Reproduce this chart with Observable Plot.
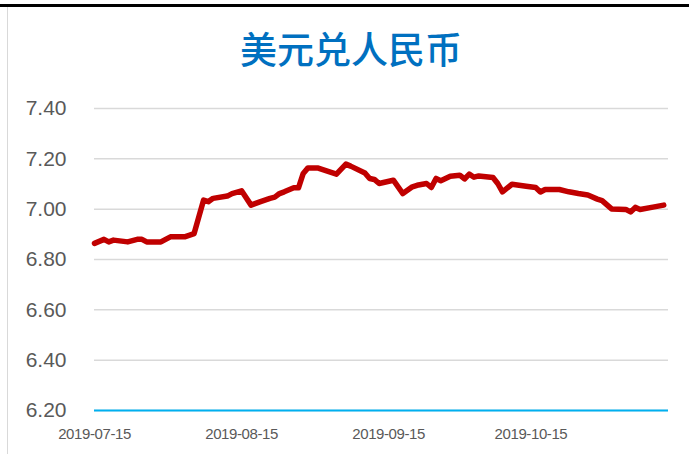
<!DOCTYPE html>
<html>
<head>
<meta charset="utf-8">
<script src="https://cdn.jsdelivr.net/npm/d3@7"></script>
<script src="https://cdn.jsdelivr.net/npm/@observablehq/plot@0.6"></script>
<style>
  html, body { margin: 0; padding: 0; background: #fff; }
  #wrap { position: relative; width: 689px; height: 454px; overflow: hidden; background: #fff; }
  #topbar { position: absolute; left: 0; top: 4px; width: 689px; height: 3px; background: #000; }
  #leftborder { position: absolute; left: 7px; top: 7px; width: 1px; height: 447px; background: #d9d9d9; }
  #title { position: absolute; left: 0; width: 702px; top: 23px; text-align: center;
           font-family: "Noto Sans CJK SC", sans-serif; font-size: 37px; font-weight: 500;
           color: #0070c0; line-height: 50px; }
  #chart { position: absolute; left: 0; top: 0; }
  #chart g[aria-label="y-axis tick label"], #chart g[aria-label="y-axis tick label"] text { font-size: 21px !important; }
  #chart g[aria-label="x-axis tick label"], #chart g[aria-label="x-axis tick label"] text { font-size: 15px !important; letter-spacing: -0.4px; }
</style>
</head>
<body>
<div id="wrap">
  <div id="topbar"></div>
  <div id="leftborder"></div>
  <div id="chart"></div>
  <div id="title">美元兑人民币</div>
</div>
<script>
const title = "美元兑人民币";
const dates = [
  "2019-07-15","2019-07-17","2019-07-18","2019-07-19","2019-07-22","2019-07-24","2019-07-25","2019-07-26",
  "2019-07-29","2019-07-31","2019-08-03","2019-08-05","2019-08-07","2019-08-08","2019-08-09","2019-08-12",
  "2019-08-13","2019-08-15","2019-08-17","2019-08-19","2019-08-21","2019-08-22","2019-08-23","2019-08-24",
  "2019-08-26","2019-08-27","2019-08-28","2019-08-29","2019-08-31","2019-09-04","2019-09-06","2019-09-07",
  "2019-09-10","2019-09-11","2019-09-12","2019-09-13","2019-09-16","2019-09-17","2019-09-18","2019-09-20",
  "2019-09-21","2019-09-23","2019-09-24","2019-09-25","2019-09-26","2019-09-28","2019-09-30","2019-10-01",
  "2019-10-02","2019-10-03","2019-10-04","2019-10-07","2019-10-08","2019-10-09","2019-10-11","2019-10-14",
  "2019-10-16","2019-10-17","2019-10-18","2019-10-21","2019-10-23","2019-10-25","2019-10-27","2019-10-29",
  "2019-10-30","2019-11-01","2019-11-04","2019-11-05","2019-11-06","2019-11-07","2019-11-10","2019-11-12"
];
const rates = [
  6.864,6.880,6.870,6.877,6.870,6.880,6.880,6.870,
  6.870,6.890,6.890,6.903,7.036,7.030,7.043,7.052,
  7.062,7.073,7.016,7.030,7.043,7.048,7.062,7.069,
  7.085,7.085,7.142,7.164,7.164,7.139,7.179,7.171,
  7.144,7.122,7.118,7.102,7.115,7.089,7.062,7.089,
  7.095,7.102,7.086,7.122,7.113,7.131,7.135,7.120,
  7.139,7.127,7.132,7.126,7.102,7.069,7.099,7.091,
  7.086,7.068,7.078,7.078,7.069,7.062,7.056,7.040,
  7.034,7.001,6.999,6.989,7.007,6.999,7.009,7.016
];
const yTicks = [6.20, 6.40, 6.60, 6.80, 7.00, 7.20, 7.40];
const xTickLabels = ["2019-07-15", "2019-08-15", "2019-09-15", "2019-10-15"];
const xDomain = ["2019-07-15", "2019-11-13"];

const parse = d3.utcParse("%Y-%m-%d");
const data = dates.map((d, i) => ({date: parse(d), rate: rates[i]}));

const chart = Plot.plot({
  width: 689,
  height: 454,
  marginTop: 108,
  marginBottom: 44,
  marginLeft: 94,
  marginRight: 21,
  style: {background: "transparent", fontFamily: "'Liberation Sans', sans-serif", overflow: "visible"},
  x: {type: "utc", domain: xDomain.map(parse)},
  y: {domain: [6.2, 7.4]},
  marks: [
    Plot.gridY(yTicks, {stroke: "#d9d9d9", strokeOpacity: 1, strokeWidth: 1.5}),
    Plot.ruleY([6.2], {stroke: "#00b0f0", strokeWidth: 2}),
    Plot.axisY(yTicks, {tickSize: 0, tickPadding: 28, fontSize: 21, fill: "#595959",
      tickFormat: d => d.toFixed(2), label: null}),
    Plot.axisX(xTickLabels.map(parse), {tickSize: 0, tickPadding: 18, fontSize: 15, fill: "#595959",
      tickFormat: d3.utcFormat("%Y-%m-%d"), label: null}),
    Plot.line(data, {x: "date", y: "rate", stroke: "#c00000", strokeWidth: 5.5,
      strokeLinejoin: "round", strokeLinecap: "round"})
  ]
});
document.getElementById("chart").appendChild(chart);
</script>
</body>
</html>
